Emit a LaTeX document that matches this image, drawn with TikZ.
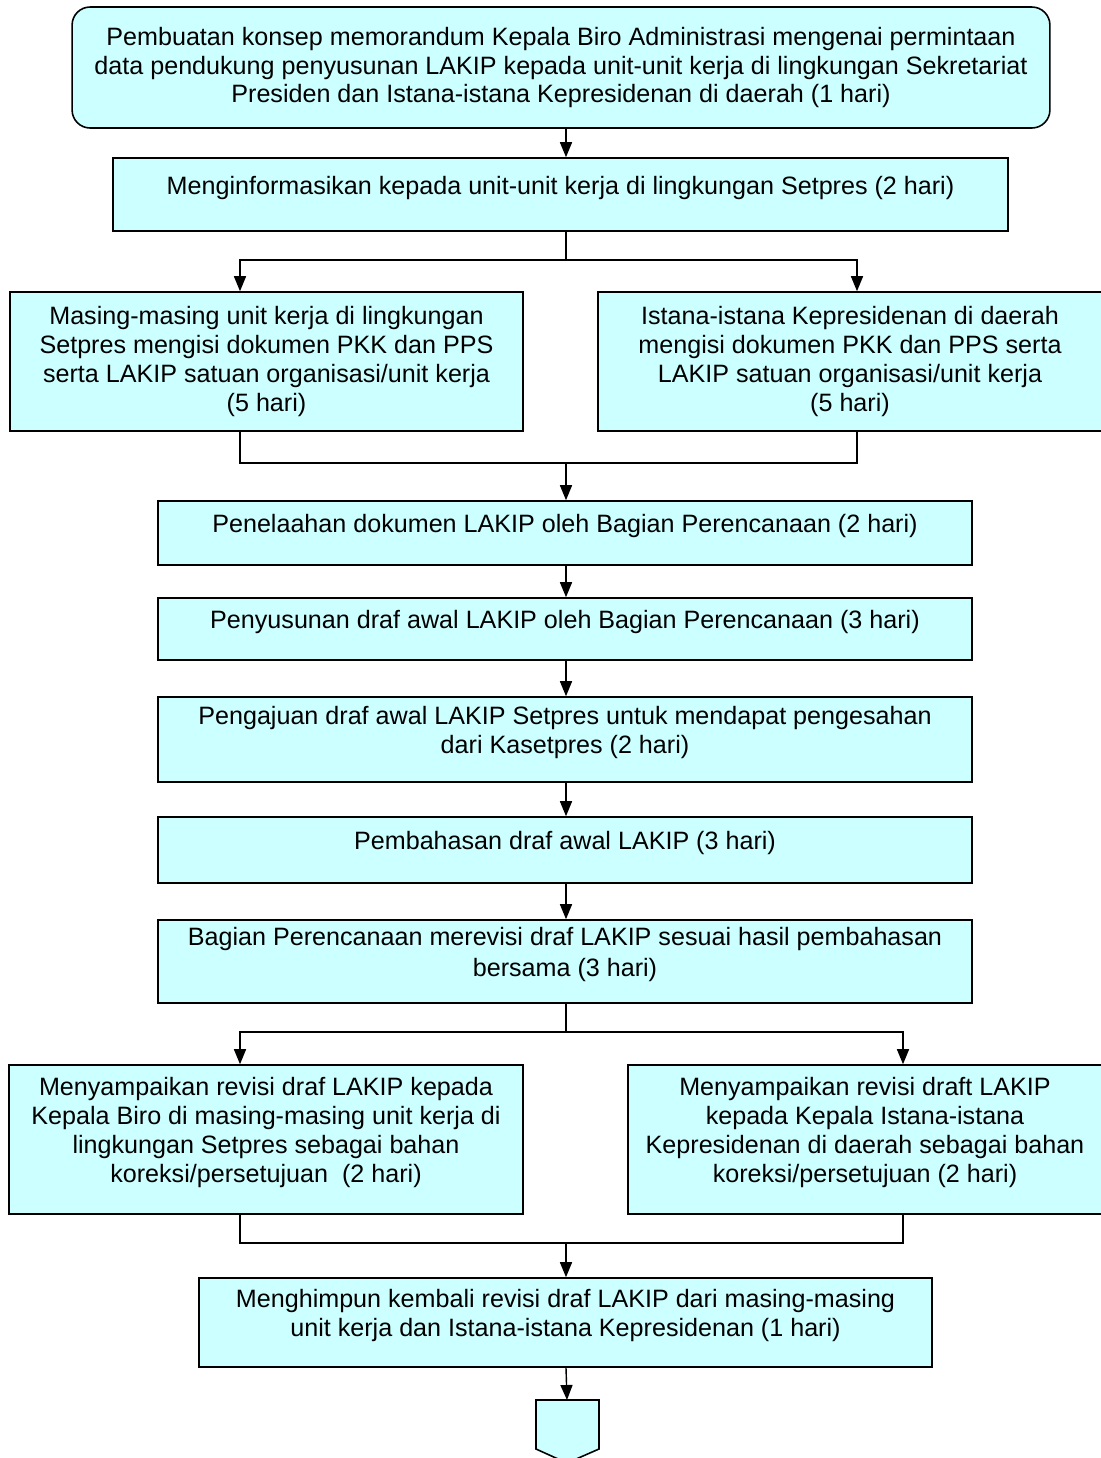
\documentclass[tikz,border=0pt]{standalone}
\usepackage{fontspec}
\setmainfont{Liberation Sans}
\usetikzlibrary{arrows.meta,positioning}
\definecolor{cyanbg}{RGB}{204,255,255}

\begin{document}
\begin{tikzpicture}[
    x=0.02cm, y=-0.02cm,
    stepbox/.style={rectangle, draw, fill=cyanbg, line width=0.9pt, inner sep=0pt, align=center, font=\fontsize{14.3}{16.5}\selectfont, text depth=0.38cm},
    startbox/.style={rectangle, rounded corners=0.36cm, draw, fill=cyanbg, line width=0.9pt, inner sep=0pt, align=center, font=\fontsize{14.3}{16.5}\selectfont},
    flow/.style={line width=0.8pt, -{Triangle[length=0.3cm, width=0.24cm]}},
    link/.style={line width=0.8pt}
]
    \useasboundingbox (0,0) rectangle (1101,1458);

    % guide lines
    \coordinate (axis) at (566,0);
    \coordinate (legL) at (240,0);
    \coordinate (legR) at (857,0);
    \coordinate (legRR) at (903,0);

    % Request
    \node[startbox, minimum width=19.56cm, minimum height=2.42cm] (konsep) at (561,67.5)
        {Pembuatan konsep memorandum Kepala Biro Administrasi mengenai permintaan\\
         data pendukung penyusunan LAKIP kepada unit-unit kerja di lingkungan Sekretariat\\
         Presiden dan Istana-istana Kepresidenan di daerah (1 hari)};
    \node[stepbox, minimum width=17.9cm, minimum height=1.46cm] (inform) at (560.5,194.5)
        {Menginformasikan kepada unit-unit kerja di lingkungan Setpres (2 hari)};

    % First branch
    \node[stepbox, text depth=0.09cm, minimum width=10.26cm, minimum height=2.78cm] (isiSetpres) at (266.5,361.5)
        {Masing-masing unit kerja di lingkungan\\
         Setpres mengisi dokumen PKK dan PPS\\
         serta LAKIP satuan organisasi/unit kerja\\
         (5 hari)};
    \node[stepbox, text depth=0.09cm, minimum width=10.08cm, minimum height=2.78cm] (isiIstana) at (850,361.5)
        {Istana-istana Kepresidenan di daerah\\
         mengisi dokumen PKK dan PPS serta\\
         LAKIP satuan organisasi/unit kerja\\
         (5 hari)};

    % Main column
    \node[stepbox, minimum width=16.28cm, minimum height=1.28cm] (telaah) at (565,533)
        {Penelaahan dokumen LAKIP oleh Bagian Perencanaan (2 hari)};
    \node[stepbox, minimum width=16.28cm, minimum height=1.24cm] (susun) at (565,629)
        {Penyusunan draf awal LAKIP oleh Bagian Perencanaan (3 hari)};
    \node[stepbox, minimum width=16.28cm, minimum height=1.70cm] (ajuan) at (565,739.5)
        {Pengajuan draf awal LAKIP Setpres untuk mendapat pengesahan\\
         dari Kasetpres (2 hari)};
    \node[stepbox, minimum width=16.28cm, minimum height=1.32cm] (bahas) at (565,850)
        {Pembahasan draf awal LAKIP (3 hari)};
    \node[stepbox, minimum width=16.28cm, minimum height=1.66cm] (revisi) at (565,961.5)
        {Bagian Perencanaan merevisi draf LAKIP sesuai hasil pembahasan\\[1.5pt]
         bersama (3 hari)};

    % Second branch
    \node[stepbox, minimum width=10.28cm, minimum height=2.98cm] (kirimBiro) at (266,1139.5)
        {Menyampaikan revisi draf LAKIP kepada\\
         Kepala Biro di masing-masing unit kerja di\\
         lingkungan Setpres sebagai bahan\\
         koreksi/persetujuan~~(2 hari)};
    \node[stepbox, minimum width=9.48cm, minimum height=2.98cm] (kirimIstana) at (865,1139.5)
        {Menyampaikan revisi draft LAKIP\\
         kepada Kepala Istana-istana\\
         Kepresidenan di daerah sebagai bahan\\
         koreksi/persetujuan (2 hari)};

    \node[stepbox, minimum width=14.66cm, minimum height=1.78cm] (himpun) at (565.5,1322.5)
        {Menghimpun kembali revisi draf LAKIP dari masing-masing\\
         unit kerja dan Istana-istana Kepresidenan (1 hari)};

    % Off-page connector
    \coordinate (lanjut) at (567,1400);
    \draw[fill=cyanbg, line width=0.9pt] (536,1400) -- (599,1400) -- (599,1449) -- (567,1463) -- (536,1449) -- cycle;

    % Connectors
    \coordinate (split1) at (566,260);
    \coordinate (join1) at (566,463);
    \coordinate (split2) at (566,1032);
    \coordinate (join2) at (566,1243);

    \draw[flow] (konsep.south -| axis) -- (inform.north -| axis);
    \draw[link] (inform.south -| axis) -- (split1);
    \draw[flow] (split1) -| (isiSetpres.north -| legL);
    \draw[flow] (split1) -| (isiIstana.north -| legR);
    \draw[link] (isiSetpres.south -| legL) |- (join1) -| (isiIstana.south -| legR);
    \draw[flow] (join1) -- (telaah.north -| axis);
    \draw[flow] (telaah.south -| axis) -- (susun.north -| axis);
    \draw[flow] (susun.south -| axis) -- (ajuan.north -| axis);
    \draw[flow] (ajuan.south -| axis) -- (bahas.north -| axis);
    \draw[flow] (bahas.south -| axis) -- (revisi.north -| axis);
    \draw[link] (revisi.south -| axis) -- (split2);
    \draw[flow] (split2) -| (kirimBiro.north -| legL);
    \draw[flow] (split2) -| (kirimIstana.north -| legRR);
    \draw[link] (kirimBiro.south -| legL) |- (join2) -| (kirimIstana.south -| legRR);
    \draw[flow] (join2) -- (himpun.north -| axis);
    \draw[flow] (himpun.south -| axis) -- (lanjut);
\end{tikzpicture}
\end{document}
